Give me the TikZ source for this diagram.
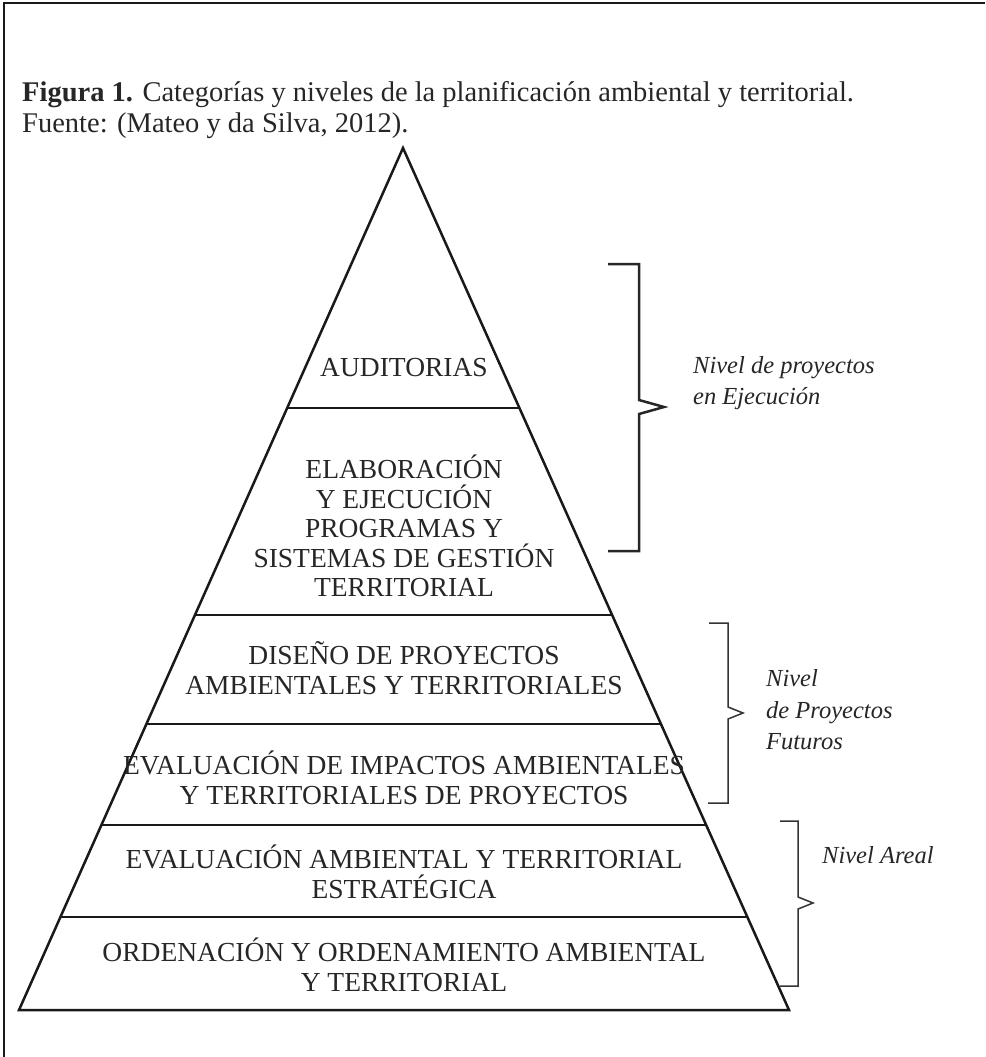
\documentclass[tikz,border=0pt]{standalone}
\usepackage{fontspec}
\setmainfont{Liberation Serif}
\usetikzlibrary{calc}
\begin{document}
\begin{tikzpicture}[x=1pt,y=-1pt,
  lvl/.style={align=center, font=\fontsize{27.5}{29.5}\selectfont, inner sep=0pt, text=black!85},
  lbl/.style={align=left, anchor=west, font=\fontsize{24.5}{31.5}\selectfont\itshape, inner sep=0pt, text=black!85},
  ttl/.style={anchor=base west, font=\fontsize{28.5}{31}\selectfont, inner sep=0pt, text=black!85},
  heavy/.style={line width=2.5pt, draw=black!90},
  brk/.style={line width=1.5pt, draw=black!80, line join=miter},
  brkheavy/.style={line width=2.5pt, draw=black!85, line join=miter},
]
\useasboundingbox (0,0) rectangle (985,1057);
% frame
\draw[heavy] (4,1057) -- (4,3) -- (985,3);
% title
\node[ttl] (t1) at (22,101) {\textbf{Figura 1.} Categorías y niveles de la planificación ambiental y territorial.};
\node[ttl] (t2) at (22,132) {Fuente: (Mateo y da Silva, 2012).};
% pyramid
\coordinate (A) at (403,148);
\coordinate (L) at (19,1010);
\coordinate (R) at (789,1010);
\draw[heavy, line join=miter] (A) -- (L) -- (R) -- cycle;
\foreach \yy in {408,615,724,825,917}{
  \draw[heavy] ($(A)!{(\yy-148)/862}!(L)$) -- ($(A)!{(\yy-148)/862}!(R)$);
}
% level texts
\node[lvl] (aud) at (404,368) {AUDITORIAS};
\node[lvl] (ela) at (404,526) {ELABORACIÓN\\ Y EJECUCIÓN\\PROGRAMAS Y\\SISTEMAS DE GESTIÓN\\TERRITORIAL};
\node[lvl] (dis) at (404,668) {DISEÑO DE PROYECTOS\\AMBIENTALES Y TERRITORIALES};
\node[lvl] (eip) at (404,778) {EVALUACIÓN DE IMPACTOS AMBIENTALES\\Y TERRITORIALES DE PROYECTOS};
\node[lvl] (eat) at (404,872) {EVALUACIÓN AMBIENTAL Y TERRITORIAL\\ESTRATÉGICA};
\node[lvl] (ord) at (404,965) {ORDENACIÓN Y ORDENAMIENTO AMBIENTAL\\Y TERRITORIAL};
% brackets
\draw[brkheavy] (608,264) -- (639,264) -- (639,400) -- (664,407) -- (639,414) -- (639,551) -- (608,551);
\draw[brk] (709,623) -- (728,623) -- (728,707) -- (743,713) -- (728,719) -- (728,803) -- (708,803);
\draw[brk] (780,821) -- (798,821) -- (798,897) -- (813,903) -- (798,909) -- (798,986) -- (780,986);
% level labels
\node[lbl] (nej) at (693,383) {Nivel de proyectos\\en Ejecución};
\node[lbl] (nfu) at (766,710) {Nivel\\de Proyectos\\Futuros};
\node[lbl, anchor=base west] (nar) at (822,863) {Nivel Areal};
\end{tikzpicture}
\end{document}
